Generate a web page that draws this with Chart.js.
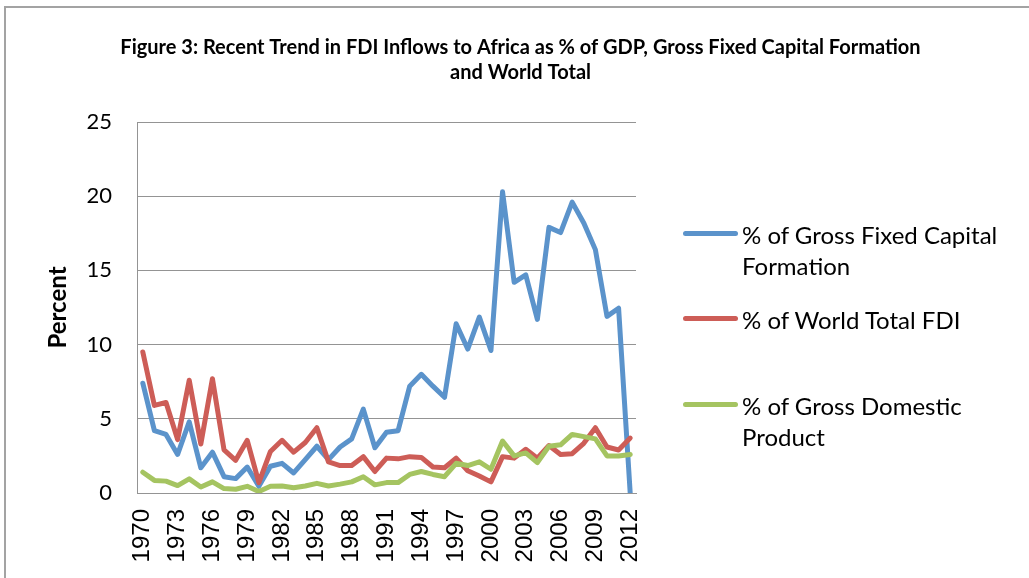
<!DOCTYPE html>
<html>
<head>
<meta charset="utf-8">
<title>FDI Inflows to Africa</title>
<script src="https://cdn.jsdelivr.net/npm/chart.js@4.4.1/dist/chart.umd.min.js"></script>
<style>
    html, body { margin: 0; padding: 0; background: #fff; overflow: hidden; }
    #wrap { position: relative; width: 1029px; height: 578px; }
    #frame { position: absolute; left: 4px; top: 6px; width: 1100px; height: 700px; border: 2px solid #a3a3a3; }
    #chartBox { position: absolute; left: 0; top: 0; width: 1029px; height: 578px; }
    #legend { position: absolute; left: 683px; top: 0; font-family: Lato, "Open Sans", sans-serif; font-size: 24px; color: #000; }
    .leg-item { position: absolute; left: 0; white-space: nowrap; }
    .leg-line { position: absolute; left: 0; width: 55px; height: 5px; border-radius: 3px; }
    .leg-text { position: absolute; left: 59px; line-height: 31px; }
</style>
</head>
<body>
<div id="wrap">
    <div id="frame"></div>
    <div id="chartBox"><canvas id="fdiChart"></canvas></div>
    <div id="legend"></div>
</div>
<script>
// ============================================================================
// FIGURE 3 - FDI INFLOWS TO AFRICA
// ============================================================================

const anos = [
    "1970", "1971", "1972", "1973", "1974", "1975", "1976", "1977", "1978", "1979",
    "1980", "1981", "1982", "1983", "1984", "1985", "1986", "1987", "1988", "1989",
    "1990", "1991", "1992", "1993", "1994", "1995", "1996", "1997", "1998", "1999",
    "2000", "2001", "2002", "2003", "2004", "2005", "2006", "2007", "2008", "2009",
    "2010", "2011", "2012"
];

// % of Gross Fixed Capital Formation
const pctGFCF = [
    7.4, 4.2, 3.95, 2.6, 4.8, 1.7, 2.75, 1.1, 0.97, 1.75,
    0.45, 1.8, 2.0, 1.35, 2.25, 3.15, 2.25, 3.1, 3.65, 5.65,
    3.05, 4.1, 4.2, 7.2, 8.0, 7.2, 6.45, 11.4, 9.7, 11.85,
    9.6, 20.3, 14.2, 14.7, 11.7, 17.9, 17.55, 19.6, 18.2, 16.4,
    11.9, 12.45, 0
];

// % of World Total FDI
const pctWorld = [
    9.5, 5.9, 6.1, 3.6, 7.6, 3.3, 7.7, 2.9, 2.2, 3.55,
    0.7, 2.8, 3.55, 2.75, 3.4, 4.4, 2.1, 1.85, 1.85, 2.45,
    1.45, 2.35, 2.3, 2.45, 2.4, 1.75, 1.7, 2.35, 1.5, 1.15,
    0.75, 2.45, 2.35, 2.95, 2.35, 3.2, 2.6, 2.65, 3.35, 4.4,
    3.1, 2.9, 3.7
];

// % of Gross Domestic Product
const pctGDP = [
    1.4, 0.85, 0.8, 0.5, 0.95, 0.4, 0.75, 0.3, 0.25, 0.45,
    0.1, 0.45, 0.47, 0.35, 0.47, 0.65, 0.47, 0.6, 0.75, 1.1,
    0.55, 0.7, 0.7, 1.25, 1.45, 1.25, 1.1, 2.0, 1.85, 2.1,
    1.6, 3.5, 2.5, 2.7, 2.05, 3.15, 3.25, 3.95, 3.8, 3.65,
    2.5, 2.5, 2.6
];

const yTicks = [0, 5, 10, 15, 20, 25];

const series = [
    { label: ["% of Gross Fixed Capital", "Formation"], data: pctGFCF, cor: "#5b93cb", legendY: 233 },
    { label: ["% of World Total FDI"], data: pctWorld, cor: "#cd5d57", legendY: 318 },
    { label: ["% of Gross Domestic", "Product"], data: pctGDP, cor: "#a5c461", legendY: 404 }
];

const corGrade = "#949494";

function renderLegenda() {
    const container = document.getElementById("legend");
    container.innerHTML = series.map(s => `
        <div class="leg-item" style="top:${s.legendY}px;">
            <div class="leg-line" style="top:-2px; background:${s.cor};"></div>
            <div class="leg-text" style="top:-14px;">${s.label.join("<br>")}</div>
        </div>
    `).join('');
}

function renderChart() {
    const ctx = document.getElementById("fdiChart").getContext("2d");
    new Chart(ctx, {
        type: "line",
        data: {
            labels: anos,
            datasets: series.map((s, idx) => ({
                label: s.label.join(" "),
                data: s.data,
                borderColor: s.cor,
                backgroundColor: s.cor,
                borderWidth: 5,
                pointRadius: 0,
                tension: 0,
                borderJoinStyle: "round",
                borderCapStyle: "round",
                order: series.length - idx
            }))
        },
        options: {
            responsive: true,
            maintainAspectRatio: false,
            animation: false,
            layout: { padding: { left: 12, right: 0, top: 0, bottom: 0 } },
            plugins: {
                legend: { display: false },
                tooltip: { enabled: false },
                title: {
                    display: true,
                    text: ["Figure 3: Recent Trend in FDI Inflows to Africa as % of GDP, Gross Fixed Capital Formation", "and World Total"],
                    color: "#000",
                    font: { family: "Lato, 'Open Sans', sans-serif", size: 20, weight: "bold", lineHeight: 1.25 },
                    padding: { top: 35, bottom: 37 }
                }
            },
            scales: {
                x: {
                    offset: true,
                    grid: { display: false, drawTicks: false },
                    border: { display: true, color: corGrade, width: 1 },
                    ticks: {
                        autoSkip: false,
                        minRotation: 90,
                        maxRotation: 90,
                        padding: 16,
                        color: "#000",
                        font: { family: "'Liberation Sans', Arial, sans-serif", size: 24 },
                        callback: (val, idx) => idx % 3 === 0 ? anos[idx] : null
                    },
                    afterFit: scale => { scale.height = 85; }
                },
                y: {
                    min: 0,
                    max: 25,
                    afterBuildTicks: scale => { scale.ticks = yTicks.map(v => ({ value: v })); },
                    grid: { color: corGrade, lineWidth: 1, drawTicks: false },
                    border: { display: true, color: corGrade, width: 1 },
                    ticks: {
                        padding: 25,
                        color: "#000",
                        font: { family: "Lato, 'Open Sans', sans-serif", size: 22 }
                    },
                    title: {
                        display: true,
                        text: "Percent",
                        color: "#000",
                        font: { family: "Lato, 'Open Sans', sans-serif", size: 24, weight: "bold" },
                        padding: { top: 32, bottom: 0 }
                    },
                    afterFit: scale => { scale.width = 125; }
                },
                // espaço reservado para a legenda (lado direito)
                espacoLegenda: {
                    type: "linear",
                    position: "right",
                    display: true,
                    grid: { display: false, drawTicks: false },
                    border: { display: false },
                    ticks: { display: false },
                    afterFit: scale => { scale.width = 393; }
                }
            }
        }
    });
}

document.addEventListener("DOMContentLoaded", () => {
    renderChart();
    renderLegenda();
});
</script>
</body>
</html>
